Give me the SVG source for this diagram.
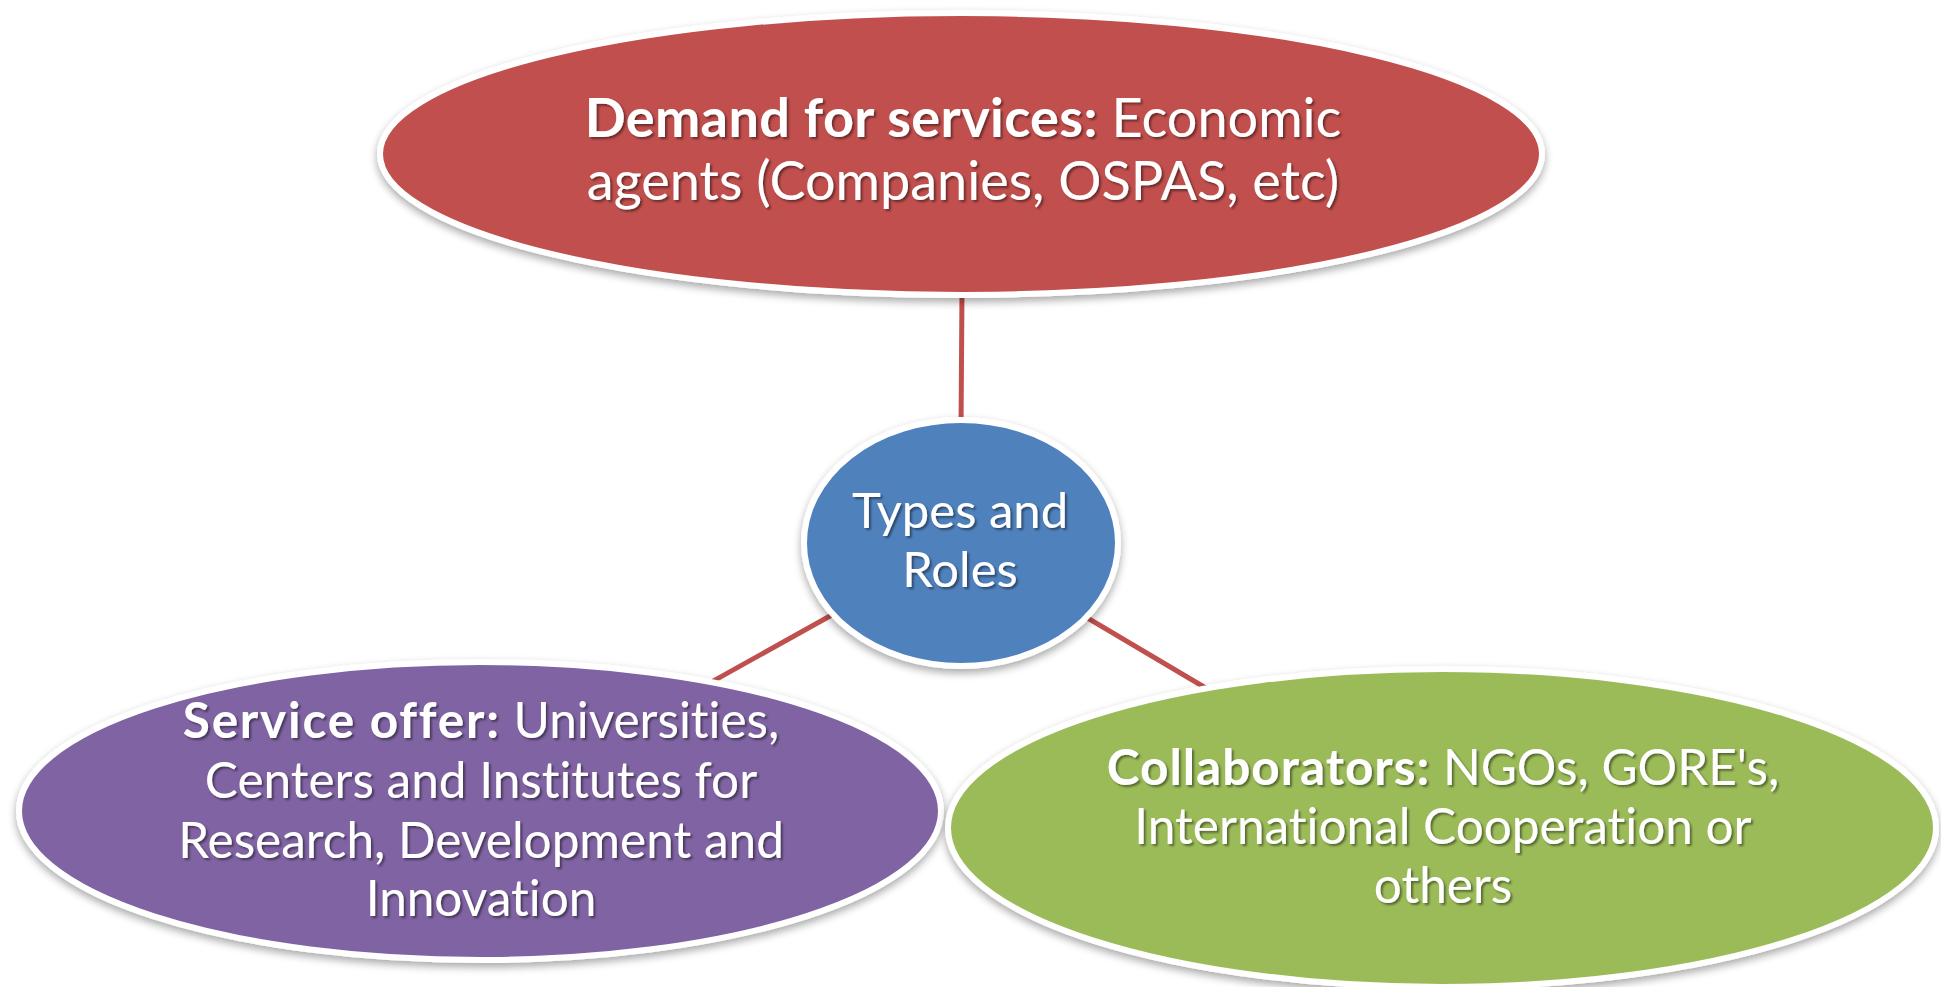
<svg xmlns="http://www.w3.org/2000/svg" width="1941" height="987" viewBox="0 0 1941 987">
  <defs>
    <filter id="shadow" x="-10%" y="-10%" width="120%" height="130%">
      <feGaussianBlur in="SourceAlpha" stdDeviation="4"/>
      <feOffset dx="0" dy="4" result="b"/>
      <feComponentTransfer><feFuncA type="linear" slope="0.35"/></feComponentTransfer>
      <feMerge><feMergeNode/><feMergeNode in="SourceGraphic"/></feMerge>
    </filter>
    <filter id="tshadow" x="-5%" y="-20%" width="110%" height="140%">
      <feGaussianBlur in="SourceAlpha" stdDeviation="1"/>
      <feOffset dx="1.5" dy="1.5"/>
      <feComponentTransfer><feFuncA type="linear" slope="0.45"/></feComponentTransfer>
      <feMerge><feMergeNode/><feMergeNode in="SourceGraphic"/></feMerge>
    </filter>
  </defs>
  <style>
    .node { stroke: #ffffff; stroke-width: 6; filter: url(#shadow); }
    .conn { stroke: #C0504D; stroke-width: 5; fill: none; }
    .lbl { font-family: Lato, "Liberation Sans", sans-serif; fill: #ffffff; text-anchor: middle; filter: url(#tshadow); font-variant-ligatures: none; }
    .b { font-weight: bold; letter-spacing: 1px; }
  </style>
  <rect width="1941" height="987" fill="#ffffff"/>
  <g id="connectors">
    <line class="conn" x1="962" y1="290" x2="961" y2="430"/>
    <line class="conn" x1="961" y1="543" x2="480" y2="811"/>
    <line class="conn" x1="961" y1="543" x2="1442" y2="828"/>
  </g>
  <g id="node-demand">
    <ellipse class="node" cx="961" cy="154" rx="581" ry="141" fill="#C0504D"/>
    <text class="lbl" font-size="54" x="963" y="137"><tspan class="b" style="letter-spacing:0.4px">Demand for services:</tspan> Economic</text>
    <text class="lbl" font-size="54" x="963" y="200">agents (Companies, OSPAS, etc)</text>
  </g>
  <g id="node-types">
    <ellipse class="node" cx="961" cy="543" rx="157" ry="123" fill="#4F81BD"/>
    <text class="lbl" font-size="49" x="960" y="528">Types and</text>
    <text class="lbl" font-size="49" x="960" y="587">Roles</text>
  </g>
  <g id="node-offer">
    <ellipse class="node" cx="480" cy="811" rx="461" ry="149" fill="#8064A2"/>
    <text class="lbl" font-size="49.5" x="481" y="738"><tspan class="b" style="letter-spacing:1.8px">Service offer:</tspan> Universities,</text>
    <text class="lbl" font-size="49.5" x="481" y="798">Centers and Institutes for</text>
    <text class="lbl" font-size="49.5" x="481" y="858">Research, Development and</text>
    <text class="lbl" font-size="49.5" x="481" y="916">Innovation</text>
  </g>
  <g id="node-collab">
    <ellipse class="node" cx="1442" cy="828" rx="494" ry="159" fill="#9BBB59"/>
    <text class="lbl" font-size="49.5" x="1443" y="785"><tspan class="b">Collaborators:</tspan> NGOs, GORE's,</text>
    <text class="lbl" font-size="49.5" x="1443" y="844">International Cooperation or</text>
    <text class="lbl" font-size="49.5" x="1443" y="903">others</text>
  </g>
</svg>
